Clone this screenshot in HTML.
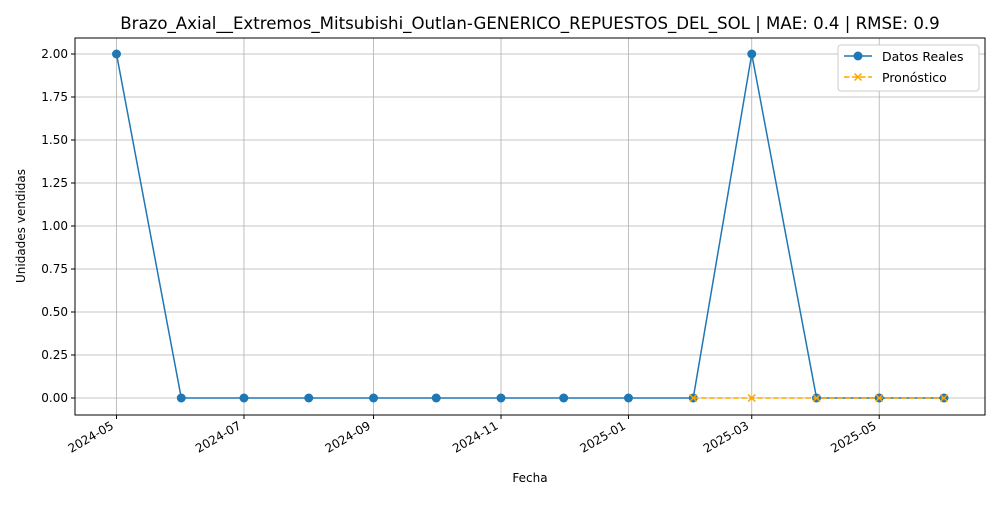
<!DOCTYPE html>
<html><head><meta charset="utf-8"><style>
body{margin:0;background:#fff;font-family:"Liberation Sans","DejaVu Sans",sans-serif;}
svg text{font-family:"DejaVu Sans","Liberation Sans",sans-serif;}
</style></head><body>
<svg id="c" width="1000" height="500" xmlns="http://www.w3.org/2000/svg"></svg>
<script>
const realDates=["2024-05-01","2024-06-01","2024-07-01","2024-08-01","2024-09-01","2024-10-01","2024-11-01","2024-12-01","2025-01-01","2025-02-01","2025-03-01","2025-04-01","2025-05-01","2025-06-01"];
const realValues=[2,0,0,0,0,0,0,0,0,0,2,0,0,0];
const fcDates=["2025-02-01","2025-03-01","2025-04-01","2025-05-01","2025-06-01"];
const fcValues=[0,0,0,0,0];
const xTicks=["2024-05","2024-07","2024-09","2024-11","2025-01","2025-03","2025-05"];
const yTicks=[0,0.25,0.5,0.75,1,1.25,1.5,1.75,2];

const svg=document.getElementById('c');
const NS="http://www.w3.org/2000/svg";
const L=75,R=985,T=38,B=415;
const d0=Date.parse("2024-05-01"),d1=Date.parse("2025-06-01");
const x=d=>116.5+(Date.parse(d.length===7?d+"-01":d)-d0)/(d1-d0)*(944-116.5);
const y=v=>398-v*172;
function el(tag,attrs,parent){const e=document.createElementNS(NS,tag);for(const k in attrs)e.setAttribute(k,attrs[k]);(parent||svg).appendChild(e);return e;}

const grid=el('g',{});


xTicks.forEach(t=>{el('line',{x1:x(t),x2:x(t),y1:T,y2:B,stroke:'#b0b0b0','stroke-width':0.8},grid);});
yTicks.forEach(t=>{el('line',{x1:L,x2:R,y1:y(t),y2:y(t),stroke:'#b0b0b0','stroke-width':0.8},grid);});

const fr=el('rect',{x:L,y:T,width:R-L,height:B-T,fill:'none',stroke:'#000','stroke-width':1});



xTicks.forEach(t=>{
  const X=x(t);
  el('line',{x1:X,x2:X,y1:B,y2:B+4,stroke:'#000'});
  const ax=X-2,ay=B+13;
  const tx=el('text',{x:ax,y:ay,'font-size':12,'text-anchor':'end',transform:`rotate(-30 ${ax} ${ay})`});
  tx.textContent=t;
  
  
});
yTicks.forEach(t=>{
  const Y=y(t);
  el('line',{x1:L-4,x2:L,y1:Y,y2:Y,stroke:'#000'});
  const tx=el('text',{x:L-7,y:Y+4,'font-size':12,'text-anchor':'end'});
  tx.textContent=t.toFixed(2);
  
  
});

const rl=el('polyline',{points:realDates.map((d,i)=>x(d)+','+y(realValues[i])).join(' '),fill:'none',stroke:'#1f77b4','stroke-width':1.5});


realDates.forEach((d,i)=>{
  const c=el('circle',{cx:x(d),cy:y(realValues[i]),r:4.5,fill:'#1f77b4'});
  
  
});
const fl=el('polyline',{points:fcDates.map((d,i)=>x(d)+','+y(fcValues[i])).join(' '),fill:'none',stroke:'#ffa500','stroke-width':1.5,'stroke-dasharray':'5.5,2.5'});


fcDates.forEach((d,i)=>{
  const X=x(d),Y=y(fcValues[i]);
  const g=el('path',{d:`M${X-3.5},${Y-3.5}L${X+3.5},${Y+3.5}M${X-3.5},${Y+3.5}L${X+3.5},${Y-3.5}`,stroke:'#ffa500','stroke-width':1.5});
  
  
});

const tt=el('text',{x:530,y:29,'font-size':16.6,'text-anchor':'middle'});
tt.textContent="Brazo_Axial__Extremos_Mitsubishi_Outlan-GENERICO_REPUESTOS_DEL_SOL | MAE: 0.4 | RMSE: 0.9";


const xt=el('text',{x:530,y:482,'font-size':12,'text-anchor':'middle'});
xt.textContent="Fecha";


const yt=el('text',{x:25,y:226,'font-size':12,'text-anchor':'middle',transform:'rotate(-90 25 226)'});
yt.textContent="Unidades vendidas";



const lg=el('g',{});


el('rect',{x:838,y:45,width:141,height:46,rx:3,fill:'#fff',stroke:'#ccc'},lg);
el('line',{x1:844,x2:872,y1:56,y2:56,stroke:'#1f77b4','stroke-width':1.5},lg);
el('circle',{cx:858,cy:56,r:4.5,fill:'#1f77b4'},lg);
const l1=el('text',{x:882,y:61,'font-size':12.5},lg);l1.textContent="Datos Reales";


el('line',{x1:844,x2:872,y1:77,y2:77,stroke:'#ffa500','stroke-width':1.5,'stroke-dasharray':'5.5,2.5'},lg);
el('path',{d:'M854.5,73.5L861.5,80.5M854.5,80.5L861.5,73.5',stroke:'#ffa500','stroke-width':1.5},lg);
const l2=el('text',{x:882,y:82,'font-size':12.5},lg);l2.textContent="Pronóstico";


</script>
</body></html>
